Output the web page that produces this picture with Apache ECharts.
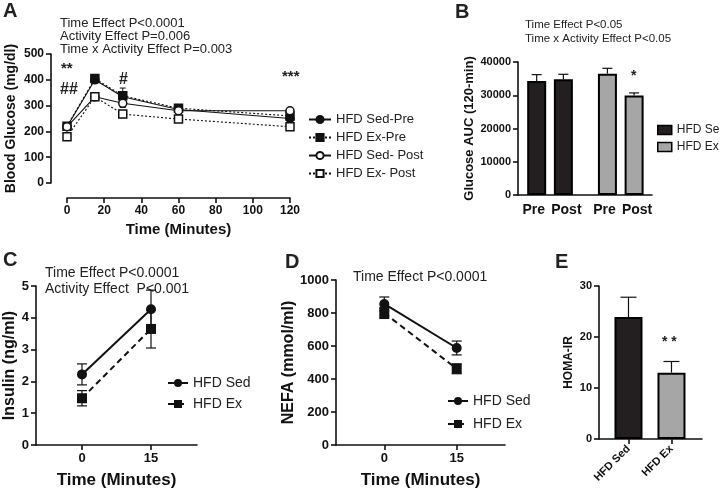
<!DOCTYPE html>
<html><head><meta charset="utf-8">
<script src="https://cdn.jsdelivr.net/npm/echarts@6/dist/echarts.min.js"></script>
<style>html,body{margin:0;padding:0;background:#fff}#c{width:720px;height:494px}</style>
</head><body><div id="c"></div>
<script>
// ---------- Panel A: glucose tolerance ----------
const glucoseTimes = [0, 15, 30, 60, 120];
const sedPre  = [218, 400, 334, 285, 250];
const exPre   = [220, 405, 338, 290, 260];
const sedPost = [218, 334, 309, 280, 280];
const exPost  = [179, 334, 267, 248, 218];
const sedPreSem  = [8, 14, 16, 10, 10];
const exPreSem   = [8, 14, 30, 14, 12];
const sedPostSem = [8, 10, 16, 12, 10];
const exPostSem  = [6, 10, 14, 8, 8];
const glucoseSeriesNames = ['HFD Sed-Pre', 'HFD Ex-Pre', 'HFD Sed- Post', 'HFD Ex- Post'];

// ---------- Panel B: glucose AUC ----------
const groupNames = ['HFD Sed', 'HFD Ex'];
const aucLabels = ['Pre', 'Post', 'Pre', 'Post'];
const aucPositions = [1, 2, 3.65, 4.65];
const aucSed = [34300, 34800];
const aucSedSem = [1900, 1500];
const aucEx = [36500, 29900];
const aucExSem = [1600, 800];

// ---------- Panel C: insulin ----------
const shortTimes = [0, 15];
const insulinSed = [2.22, 4.27];
const insulinSedSem = [0.33, 0.6];
const insulinEx = [1.47, 3.65];
const insulinExSem = [0.24, 0.6];

// ---------- Panel D: NEFA ----------
const nefaSed = [855, 588];
const nefaSedSem = [42, 42];
const nefaEx = [800, 462];
const nefaExSem = [33, 30];

// ---------- Panel E: HOMA-IR ----------
const homaPositions = [1, 2];
const homa = [23.9, 13.0];
const homaSem = [3.9, 2.2];

const FONT = "'Liberation Sans', Arial, sans-serif";
const INK = '#111';
const SED_FILL = '#231f20';
const EX_FILL = '#a6a6a6';

function pairs(xs, ys) { return xs.map((x, i) => [x, ys[i]]); }
function triples(xs, ys, es) { return xs.map((x, i) => [x, ys[i], es[i]]); }
const plain = v => String(v);

function errorBars(gridIdx, xs, ys, es, cap, upOnly, width) {
  return {
    type: 'custom', xAxisIndex: gridIdx, yAxisIndex: gridIdx, z: 1,
    data: triples(xs, ys, es), encode: { x: 0, y: 1 },
    renderItem: function (params, api) {
      const x = api.value(0), y = api.value(1), e = api.value(2);
      const top = api.coord([x, y + e]);
      const bot = api.coord([x, upOnly ? y : y - e]);
      const st = { stroke: INK, lineWidth: width };
      const ch = [
        { type: 'line', shape: { x1: top[0], y1: top[1], x2: bot[0], y2: bot[1] }, style: st },
        { type: 'line', shape: { x1: top[0] - cap, y1: top[1], x2: top[0] + cap, y2: top[1] }, style: st }
      ];
      if (!upOnly) ch.push({ type: 'line', shape: { x1: bot[0] - cap, y1: bot[1], x2: bot[0] + cap, y2: bot[1] }, style: st });
      return { type: 'group', children: ch };
    }
  };
}

function axisBase(fontSize) {
  return {
    axisLine: { show: true, onZero: false, lineStyle: { color: INK, width: 1.6 } },
    axisTick: { show: true, length: 5, lineStyle: { color: INK, width: 1.6 } },
    axisLabel: { color: INK, fontWeight: 'bold', fontSize: fontSize, fontFamily: FONT, margin: 7,
      formatter: plain, showMinLabel: true, showMaxLabel: true, hideOverlap: false },
    splitLine: { show: false },
    nameLocation: 'middle',
    nameTextStyle: { color: INK, fontWeight: 'bold', fontFamily: FONT }
  };
}
function merge(a, b) {
  const o = Object.assign({}, a, b);
  ['axisLine', 'axisTick', 'axisLabel', 'nameTextStyle'].forEach(k => {
    if (a[k] && b[k]) o[k] = Object.assign({}, a[k], b[k]);
  });
  return o;
}

const lineDefs = [
  { name: glucoseSeriesNames[0], data: sedPre, sem: sedPreSem, symbol: 'circle', fill: INK, dash: 'solid' },
  { name: glucoseSeriesNames[1], data: exPre, sem: exPreSem, symbol: 'rect', fill: INK, dash: [2, 2] },
  { name: glucoseSeriesNames[2], data: sedPost, sem: sedPostSem, symbol: 'circle', fill: '#fff', dash: 'solid' },
  { name: glucoseSeriesNames[3], data: exPost, sem: exPostSem, symbol: 'rect', fill: '#fff', dash: [2, 2] }
];

const series = [];
// C lines first (legend icons for C and D come from these)
series.push({ type: 'line', name: groupNames[0], xAxisIndex: 2, yAxisIndex: 2, data: pairs(shortTimes, insulinSed), symbol: 'circle', symbolSize: 10, z: 3,
  itemStyle: { color: INK }, lineStyle: { color: INK, width: 2 } });
series.push({ type: 'line', name: groupNames[1], xAxisIndex: 2, yAxisIndex: 2, data: pairs(shortTimes, insulinEx), symbol: 'rect', symbolSize: 10, z: 3,
  itemStyle: { color: INK }, lineStyle: { color: INK, width: 2, type: [6, 4] } });
series.push(errorBars(2, shortTimes, insulinSed, insulinSedSem, 5, false, 1.2));
series.push(errorBars(2, shortTimes, insulinEx, insulinExSem, 5, false, 1.2));
// D lines
series.push({ type: 'line', name: groupNames[0], xAxisIndex: 3, yAxisIndex: 3, data: pairs(shortTimes, nefaSed), symbol: 'circle', symbolSize: 10, z: 3,
  itemStyle: { color: INK }, lineStyle: { color: INK, width: 2 } });
series.push({ type: 'line', name: groupNames[1], xAxisIndex: 3, yAxisIndex: 3, data: pairs(shortTimes, nefaEx), symbol: 'rect', symbolSize: 10, z: 3,
  itemStyle: { color: INK }, lineStyle: { color: INK, width: 2, type: [6, 4] } });
series.push(errorBars(3, shortTimes, nefaSed, nefaSedSem, 5, false, 1.2));
series.push(errorBars(3, shortTimes, nefaEx, nefaExSem, 5, false, 1.2));
// A lines
lineDefs.forEach(d => {
  series.push({ type: 'line', name: d.name, xAxisIndex: 0, yAxisIndex: 0, data: pairs(glucoseTimes, d.data),
    symbol: d.symbol, symbolSize: 8, z: 3,
    itemStyle: { color: d.fill, borderColor: INK, borderWidth: 1.5 },
    lineStyle: { color: INK, width: 1.1, type: d.dash } });
  series.push(errorBars(0, glucoseTimes, d.data, d.sem, 3, false, 1));
});
// B bars
series.push({ type: 'bar', name: groupNames[0], xAxisIndex: 1, yAxisIndex: 1, barWidth: 19, barGap: '-100%',
  data: pairs(aucPositions.slice(0, 2), aucSed), itemStyle: { color: SED_FILL, borderColor: '#000', borderWidth: 2 } });
series.push({ type: 'bar', name: groupNames[1], xAxisIndex: 1, yAxisIndex: 1, barWidth: 19, barGap: '-100%',
  data: pairs(aucPositions.slice(2, 4), aucEx), itemStyle: { color: EX_FILL, borderColor: '#000', borderWidth: 2 } });
series.push(errorBars(1, aucPositions.slice(0, 2), aucSed, aucSedSem, 5, true, 1.2));
series.push(errorBars(1, aucPositions.slice(2, 4), aucEx, aucExSem, 5, true, 1.2));
// E bars
series.push({ type: 'bar', name: 'HOMA-IR', xAxisIndex: 4, yAxisIndex: 4, barWidth: 28,
  data: [{ value: [homaPositions[0], homa[0]], itemStyle: { color: SED_FILL } }, { value: [homaPositions[1], homa[1]], itemStyle: { color: EX_FILL } }],
  itemStyle: { borderColor: '#000', borderWidth: 2 } });
series.push(errorBars(4, homaPositions, homa, homaSem, 8, true, 1.2));

function txt(x, y, s, size, weight, extra) {
  return Object.assign({ type: 'text', x: x, y: y, silent: true,
    style: { text: s, fontSize: size, fontWeight: weight || 'normal', fontFamily: FONT, fill: '#222', textVerticalAlign: 'middle' } }, extra || {});
}

const prePositions = aucPositions.filter((p, i) => aucLabels[i] === 'Pre');
const postPositions = aucPositions.filter((p, i) => aucLabels[i] === 'Post');

const option = {
  animation: false,
  backgroundColor: '#fff',
  grid: [
    { left: 67, top: 54, width: 223, height: 129 },
    { left: 518, top: 62, width: 134, height: 133 },
    { left: 36, top: 286, width: 161, height: 159 },
    { left: 336, top: 280, width: 169, height: 165 },
    { left: 599, top: 286, width: 103, height: 153 }
  ],
  xAxis: [
    merge(axisBase(12), { gridIndex: 0, type: 'value', min: 0, max: 120, interval: 20, offset: 15,
      name: 'Time (Minutes)', nameGap: 24, nameTextStyle: { fontSize: 15 } }),
    merge(axisBase(14), { gridIndex: 1, type: 'value', min: 0.3, max: 5.32, position: 'bottom',
      axisTick: { show: false },
      axisLabel: { customValues: prePositions, margin: 8, padding: [0, 6, 0, 0], formatter: () => 'Pre' } }),
    merge(axisBase(13), { gridIndex: 2, type: 'value', min: -10, max: 25,
      axisTick: { customValues: shortTimes }, axisLabel: { customValues: shortTimes },
      name: 'Time (Minutes)', nameGap: 27, nameTextStyle: { fontSize: 17 } }),
    merge(axisBase(13), { gridIndex: 3, type: 'value', min: -10, max: 25,
      axisTick: { customValues: shortTimes }, axisLabel: { customValues: shortTimes },
      name: 'Time (Minutes)', nameGap: 27, nameTextStyle: { fontSize: 17 } }),
    merge(axisBase(11), { gridIndex: 4, type: 'value', min: 0.314, max: 2.71,
      axisTick: { customValues: homaPositions },
      axisLabel: { customValues: homaPositions, rotate: 45, margin: 8, formatter: v => groupNames[homaPositions.indexOf(v)] || '' } }),
    merge(axisBase(14), { gridIndex: 1, type: 'value', min: 0.3, max: 5.32, position: 'bottom', offset: 0,
      axisLine: { show: false }, axisTick: { show: false },
      axisLabel: { customValues: postPositions, margin: 8, padding: [0, 0, 0, 6], formatter: () => 'Post' } })
  ],
  yAxis: [
    merge(axisBase(12), { gridIndex: 0, type: 'value', min: 0, max: 500, interval: 100, offset: 16,
      name: 'Blood Glucose (mg/dl)', nameGap: 33, nameTextStyle: { fontSize: 14 } }),
    merge(axisBase(11), { gridIndex: 1, type: 'value', min: 0, max: 40000, interval: 10000,
      name: 'Glucose AUC (120-min)', nameGap: 42, nameTextStyle: { fontSize: 13 } }),
    merge(axisBase(13), { gridIndex: 2, type: 'value', min: 0, max: 5, interval: 1,
      name: 'Insulin (ng/ml)', nameGap: 18, nameTextStyle: { fontSize: 16 } }),
    merge(axisBase(13), { gridIndex: 3, type: 'value', min: 0, max: 1000, interval: 200,
      name: 'NEFA (mmol/ml)', nameGap: 34, nameTextStyle: { fontSize: 16 } }),
    merge(axisBase(11), { gridIndex: 4, type: 'value', min: 0, max: 30, interval: 10,
      name: 'HOMA-IR', nameGap: 24, nameTextStyle: { fontSize: 12 } })
  ],
  legend: [
    { orient: 'vertical', left: 303, top: 108, itemGap: 5, itemWidth: 22, itemHeight: 9,
      textStyle: { fontSize: 13, fontFamily: FONT, color: '#222' }, data: glucoseSeriesNames },
    { orient: 'vertical', left: 657, top: 124, padding: 0, itemGap: 5, itemWidth: 14, itemHeight: 9,
      textStyle: { fontSize: 12, fontFamily: FONT, color: '#222' },
      data: [
        { name: groupNames[0], icon: 'rect', itemStyle: { color: SED_FILL, borderColor: '#000', borderWidth: 1.5 } },
        { name: groupNames[1], icon: 'rect', itemStyle: { color: EX_FILL, borderColor: '#000', borderWidth: 1.5 } }
      ] },
    { orient: 'vertical', left: 162, top: 371, itemGap: 7, itemWidth: 20, itemHeight: 10,
      textStyle: { fontSize: 14, fontFamily: FONT, color: '#222' }, data: groupNames },
    { orient: 'vertical', left: 442, top: 389, itemGap: 9, itemWidth: 20, itemHeight: 10,
      textStyle: { fontSize: 14, fontFamily: FONT, color: '#222' }, data: groupNames }
  ],
  graphic: [
    txt(3, 11, 'A', 20, 'bold', {}),
    txt(60, 23, 'Time Effect P<0.0001', 13),
    txt(60, 36, 'Activity Effect P=0.006', 13),
    txt(60, 49, 'Time x Activity Effect P=0.003', 13),
    txt(61, 69, '**', 15, 'bold'),
    txt(60, 90, '##', 16, 'bold'),
    txt(119, 80, '#', 16, 'bold'),
    txt(282, 77, '***', 15, 'bold'),
    txt(455, 12, 'B', 20, 'bold'),
    txt(525, 25, 'Time Effect P<0.05', 11.5),
    txt(525, 39, 'Time x Activity Effect P<0.05', 11.5),
    txt(631, 76, '*', 14, 'bold'),
    txt(3, 260, 'C', 20, 'bold'),
    txt(45, 273, 'Time Effect P<0.0001', 14),
    txt(45, 289, 'Activity Effect  P<0.001', 14),
    txt(285, 262, 'D', 20, 'bold'),
    txt(353, 277, 'Time Effect P<0.0001', 14),
    txt(555, 262, 'E', 20, 'bold'),
    txt(662, 342, '* *', 14, 'bold')
  ],
  series: series
};

const chart = echarts.init(document.getElementById('c'), null, { renderer: 'canvas' });
chart.setOption(option);
</script></body></html>
